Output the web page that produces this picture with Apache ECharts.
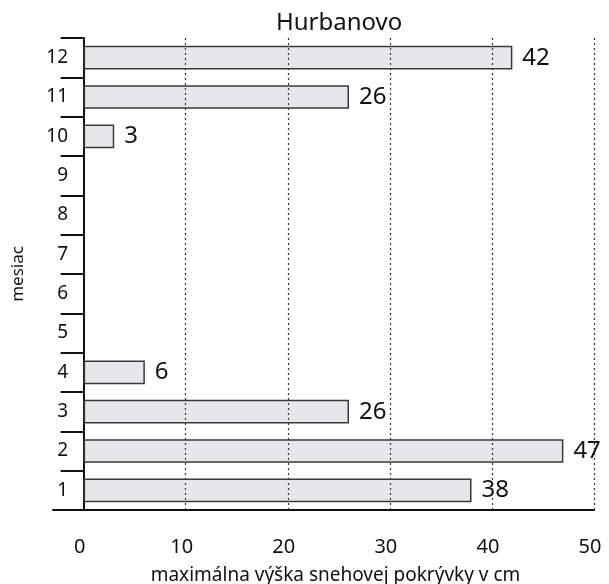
<!DOCTYPE html>
<html><head><meta charset="utf-8">
<script src="https://cdn.jsdelivr.net/npm/echarts@6/dist/echarts.min.js"></script>
<style>html,body{margin:0;padding:0;background:#fff}#c{width:609px;height:584px}</style>
</head><body><div id="c"></div>
<script>
const months = ['1','2','3','4','5','6','7','8','9','10','11','12'];
const snow = [38,47,26,6,null,null,null,null,null,3,26,42];
const xTicks = [0,10,20,30,40,50];
const gridLines = [10,20,30,40,50];
const F = 'Noto Sans';
const chart = echarts.init(document.getElementById('c'));
chart.setOption({
  animation:false,
  title:{text:'Hurbanovo',left:271,top:6,textStyle:{fontFamily:F,fontSize:24,fontWeight:'normal',color:'#111'}},
  grid:{left:53,right:15,top:38,bottom:74,outerBoundsMode:'none',containLabel:false},
  xAxis:{type:'value',min:-3,max:50,
    name:'maximálna výška snehovej pokrývky v cm',nameLocation:'middle',nameGap:56,
    nameTextStyle:{fontFamily:F,fontSize:19,color:'#111',padding:[0,0,0,24]},
    axisLine:{show:true,lineStyle:{color:'#111',width:2}},
    axisTick:{show:false},
    splitLine:{show:false},
    axisLabel:{customValues:xTicks,margin:27,fontFamily:F,fontSize:20,color:'#111',padding:[0,8,0,0]}},
  yAxis:{type:'category',data:months,
    name:'mesiac',nameLocation:'middle',nameGap:26,
    nameTextStyle:{fontFamily:F,fontSize:17,color:'#111'},
    axisLine:{show:true,onZero:true,lineStyle:{color:'#111',width:2}},
    axisTick:{show:true,length:23,lineStyle:{color:'#111',width:2}},
    axisLabel:{margin:-15,fontFamily:F,fontSize:19,color:'#111'}},
  series:[{type:'bar',data:snow,barWidth:'60%',
    itemStyle:{color:'#e6e7e8',borderColor:'#3a3a3a',borderWidth:1.5},
    label:{show:true,position:'right',distance:10,fontFamily:F,fontSize:24,color:'#111'},
    markLine:{silent:true,symbol:'none',label:{show:false},
      lineStyle:{type:[2,3],color:'#333',width:1.2},
      data:gridLines.map(v=>({xAxis:v}))}
  }]
});
</script></body></html>
